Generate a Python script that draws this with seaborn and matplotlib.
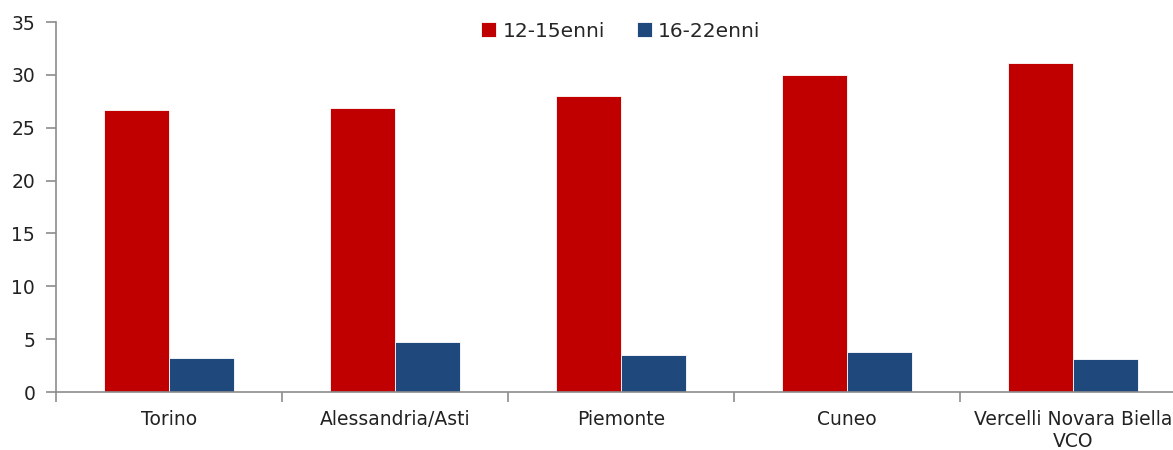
import numpy as np
import pandas as pd
import matplotlib
matplotlib.use('Agg')
import matplotlib.pyplot as plt
import seaborn as sns
from matplotlib.ticker import FixedLocator

categories = ['Torino', 'Alessandria/Asti', 'Piemonte', 'Cuneo', 'Vercelli Novara Biella\nVCO']
eta_12_15 = [26.7, 26.9, 28.0, 30.0, 31.1]
eta_16_22 = [3.2, 4.7, 3.5, 3.8, 3.1]
series = ['12-15enni', '16-22enni']

df = pd.DataFrame({
    'zona': categories * 2,
    'serie': [series[0]] * 5 + [series[1]] * 5,
    'valore': eta_12_15 + eta_16_22,
})

sns.set_style('ticks')
plt.rcParams['font.family'] = ['DejaVu Sans']

fig = plt.figure(figsize=(11.73, 4.5), dpi=100)
ax = fig.add_axes([56 / 1173, 1 - 392 / 450, 1130 / 1173, 370 / 450])

sns.barplot(data=df, x='zona', y='valore', hue='serie',
            palette=['#C00000', '#1F497D'], saturation=1, width=0.575,
            edgecolor='white', linewidth=0.6, ax=ax)

ax.set_ylim(0, 35)
ax.set_yticks(range(0, 36, 5))
ax.set_xlim(-0.5, 4.5)
ax.set_xlabel('')
ax.set_ylabel('')

for s in ['top', 'right']:
    ax.spines[s].set_visible(False)
for s in ['left', 'bottom']:
    ax.spines[s].set_color('#8c8c8c')
    ax.spines[s].set_linewidth(1.2)

ax.tick_params(axis='x', which='major', bottom=True, length=0, pad=13, labelsize=13.5, labelcolor='#222222')
ax.xaxis.set_minor_locator(FixedLocator(np.arange(-0.5, 5, 1)))
ax.tick_params(axis='x', which='minor', bottom=True, direction='out', length=7, color='#8c8c8c', width=1.2)
ax.tick_params(axis='y', left=True, direction='out', length=7, color='#8c8c8c', width=1.2,
               pad=8, labelsize=13.5, labelcolor='#222222')

ax.legend(loc='upper center', bbox_to_anchor=(0.5, 1.05), ncol=2, frameon=False,
          fontsize=14.5, handlelength=0.75, handleheight=0.75, columnspacing=1.6, handletextpad=0.3)

fig.savefig('out.png', dpi=100)
